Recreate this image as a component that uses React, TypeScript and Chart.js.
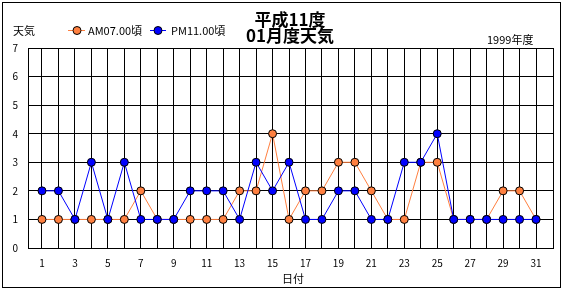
import React, { useEffect, useRef } from "react";
import { Chart, registerables } from "chart.js";

Chart.register(...registerables);

const days = [1, 2, 3, 4, 5, 6, 7, 8, 9, 10, 11, 12, 13, 14, 15, 16, 17, 18, 19, 20, 21, 22, 23, 24, 25, 26, 27, 28, 29, 30, 31];
const amValues = [1, 1, 1, 1, 1, 1, 2, 1, 1, 1, 1, 1, 2, 2, 4, 1, 2, 2, 3, 3, 2, 1, 1, 3, 3, 1, 1, 1, 2, 2, 1];
const pmValues = [2, 2, 1, 3, 1, 3, 1, 1, 1, 2, 2, 2, 1, 3, 2, 3, 1, 1, 2, 2, 1, 1, 3, 3, 4, 1, 1, 1, 1, 1, 1];
const seriesNames = ["AM07.00頃", "PM11.00頃"];
const seriesColors = ["#FF8040", "#0000FF"];
const titleLines = ["平成11度", "01月度天気"];
const yAxisTitle = "天気";
const xAxisTitle = "日付";
const yearNote = "1999年度";

const FONT = "'Noto Sans CJK JP', 'DejaVu Sans', sans-serif";

const decorPlugin = {
  id: "decor",
  beforeDraw(chart: any) {
    const ctx = chart.ctx;
    ctx.save();
    ctx.fillStyle = "#fff";
    ctx.fillRect(0, 0, chart.width, chart.height);
    ctx.restore();
  },
  afterDraw(chart: any) {
    const ctx = chart.ctx;
    const a = chart.chartArea;
    ctx.save();
    ctx.strokeStyle = "#000";
    ctx.lineWidth = 1;
    ctx.strokeRect(2.5, 2.5, 558, 285);
    ctx.strokeRect(Math.round(a.left) + 0.5, Math.round(a.top) + 0.5, Math.round(a.right - a.left), Math.round(a.bottom - a.top));

    ctx.fillStyle = "#000";
    ctx.textAlign = "center";
    ctx.textBaseline = "middle";
    ctx.font = `bold 17px ${FONT}`;
    ctx.fillText(titleLines[0], 290, 20);
    ctx.fillText(titleLines[1], 290, 36);

    ctx.font = `11px ${FONT}`;
    ctx.textAlign = "left";
    ctx.fillText(yAxisTitle, 13, 31);
    ctx.fillText(yearNote, 487, 40);
    ctx.textAlign = "center";
    ctx.fillText(xAxisTitle, 293, 279);

    // legend
    const legendItems = [
      { x0: 68, x1: 85, cx: 77, tx: 88 },
      { x0: 150, x1: 166, cx: 158, tx: 171 },
    ];
    legendItems.forEach((it, i) => {
      const color = chart.data.datasets[i].borderColor;
      ctx.strokeStyle = color;
      ctx.lineWidth = 1;
      ctx.beginPath();
      ctx.moveTo(it.x0, 30.5);
      ctx.lineTo(it.x1, 30.5);
      ctx.stroke();
      ctx.beginPath();
      ctx.arc(it.cx, 30.5, 4, 0, Math.PI * 2);
      ctx.fillStyle = color;
      ctx.fill();
      ctx.strokeStyle = "#000";
      ctx.stroke();
      ctx.fillStyle = "#000";
      ctx.textAlign = "left";
      ctx.fillText(chart.data.datasets[i].label, it.tx, 31);
    });
    ctx.restore();
  },
};

export default function App() {
  const ref = useRef<HTMLCanvasElement>(null);
  useEffect(() => {
    document.body.style.margin = "0";
    const canvas = ref.current!;
    const chart = new Chart(canvas, {
      type: "line",
      data: {
        datasets: [
          {
            label: seriesNames[0],
            data: days.map((d, i) => ({ x: d, y: amValues[i] })),
            borderColor: seriesColors[0],
            backgroundColor: seriesColors[0],
            pointBackgroundColor: seriesColors[0],
            pointBorderColor: "#000",
            pointBorderWidth: 1,
            pointRadius: 4,
            borderWidth: 1,
            order: 2,
          },
          {
            label: seriesNames[1],
            data: days.map((d, i) => ({ x: d, y: pmValues[i] })),
            borderColor: seriesColors[1],
            backgroundColor: seriesColors[1],
            pointBackgroundColor: seriesColors[1],
            pointBorderColor: "#000",
            pointBorderWidth: 1,
            pointRadius: 4,
            borderWidth: 1,
            order: 1,
          },
        ],
      },
      options: {
        responsive: false,
        animation: false,
        layout: { padding: { top: 48, right: 17, left: 0, bottom: 0 } },
        plugins: { legend: { display: false }, tooltip: { enabled: false }, title: { display: false } },
        scales: {
          x: {
            type: "linear",
            min: 0.15,
            max: 32.03,
            afterBuildTicks: (axis: any) => {
              axis.ticks = days.map((d) => ({ value: d }));
            },
            afterFit: (scale: any) => {
              scale.height = 42;
            },
            ticks: {
              autoSkip: false,
              maxRotation: 0,
              padding: 9,
              color: "#000",
              font: { family: FONT, size: 10 },
              callback: (v: any) => (Number(v) % 2 === 1 ? String(v) : ""),
            },
            grid: { color: "#000", lineWidth: 1, drawTicks: false },
            border: { color: "#000" },
          },
          y: {
            min: 0,
            max: 7,
            afterFit: (scale: any) => {
              scale.width = 28;
            },
            ticks: {
              stepSize: 1,
              padding: 10,
              color: "#000",
              font: { family: FONT, size: 10 },
            },
            grid: { color: "#000", lineWidth: 1, drawTicks: false },
            border: { color: "#000" },
          },
        },
      },
      plugins: [decorPlugin],
    });
    return () => chart.destroy();
  }, []);
  return (
    <div style={{ position: "absolute", left: 0, top: 0 }}>
      <canvas ref={ref} width={570} height={290} style={{ display: "block" }} />
    </div>
  );
}
